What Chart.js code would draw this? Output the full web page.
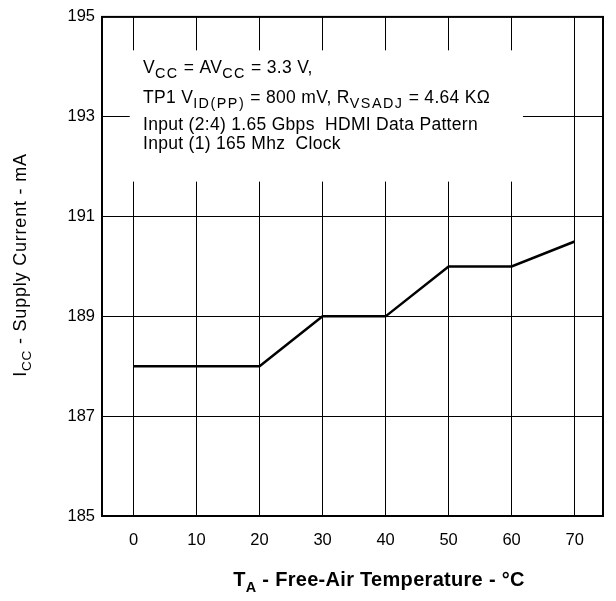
<!DOCTYPE html>
<html>
<head>
<meta charset="utf-8">
<script src="https://cdn.jsdelivr.net/npm/chart.js@4/dist/chart.umd.min.js"></script>
<style>
  body { margin: 0; background: #fff; }
  canvas { display: block; }
</style>
</head>
<body>
<canvas id="iccChart" width="616" height="601"></canvas>
<script>
var temperatures = [0, 10, 20, 30, 40, 50, 60, 70];
var supplyCurrent = [188, 188, 188, 189, 189, 190, 190, 190.5];
var xTicks = [0, 10, 20, 30, 40, 50, 60, 70];
var yTicks = [185, 187, 189, 191, 193, 195];

var FONT = '"Liberation Sans", Arial, Helvetica, sans-serif';

// text pieces: [text, isSubscript]
var noteLines = [
    [['V', 0], ['CC', 1], [' = AV', 0], ['CC', 1], [' = 3.3 V,', 0]],
    [['TP1 V', 0], ['ID(PP)', 1], [' = 800 mV, R', 0], ['VSADJ', 1], [' = 4.64 K\u03A9', 0]],
    [['Input (2:4) 1.65 Gbps  HDMI Data Pattern', 0]],
    [['Input (1) 165 Mhz  Clock', 0]]
];
var yTitle = [['I', 0], ['CC', 1], [' - Supply Current - mA', 0]];
var xTitle = [['T', 0], ['A', 1], [' - Free-Air Temperature - \u00B0C', 0]];

// style: { size, weight, spacing, subScale, subSpacing, subDrop }
function setFont(ctx, p, st) {
    ctx.font = st.weight + ' ' + (p[1] ? st.size * st.subScale : st.size) + 'px ' + FONT;
    ctx.letterSpacing = (p[1] ? st.subSpacing : st.spacing) + 'px';
}

function pieceWidth(ctx, parts, st) {
    var w = 0;
    parts.forEach(function(p) {
        setFont(ctx, p, st);
        w += ctx.measureText(p[0]).width;
    });
    return w;
}

function drawParts(ctx, parts, x, y, st) {
    ctx.textBaseline = 'alphabetic';
    ctx.textAlign = 'left';
    parts.forEach(function(p) {
        setFont(ctx, p, st);
        ctx.fillText(p[0], x, p[1] ? y + st.size * st.subDrop : y);
        x += ctx.measureText(p[0]).width;
    });
    ctx.letterSpacing = '0px';
}

var noteStyle = { size: 17.5, weight: 'normal', spacing: 0.3, subScale: 0.82, subSpacing: 1.5, subDrop: 0.3 };
var xTitleStyle = { size: 20, weight: 'bold', spacing: 0.3, subScale: 0.72, subSpacing: 0.3, subDrop: 0.3 };
var yTitleStyle = { size: 18, weight: 'normal', spacing: 0.8, subScale: 0.75, subSpacing: 0.8, subDrop: 0.3 };

var framePlugin = {
    id: 'frame',
    beforeDatasetsDraw: function(chart) {
        var ctx = chart.ctx;
        var xs = chart.scales.x;
        var ys = chart.scales.y;
        ctx.save();
        // white box behind the conditions text
        ctx.fillStyle = '#fff';
        ctx.fillRect(xs.getPixelForValue(-0.6), ys.getPixelForValue(194.33),
            xs.getPixelForValue(61.8) - xs.getPixelForValue(-0.6),
            ys.getPixelForValue(191.7) - ys.getPixelForValue(194.33));
        ctx.fillStyle = '#000';
        var lineY = [73, 103, 130, 149];
        noteLines.forEach(function(parts, i) {
            drawParts(ctx, parts, 143, lineY[i], noteStyle);
        });
        ctx.restore();
    },
    afterDraw: function(chart) {
        var ctx = chart.ctx;
        var area = chart.chartArea;
        ctx.save();
        ctx.strokeStyle = '#000';
        ctx.lineWidth = 2;
        ctx.strokeRect(area.left, area.top, area.right - area.left, area.bottom - area.top);

        ctx.fillStyle = '#000';
        // x axis title
        var wx = pieceWidth(ctx, xTitle, xTitleStyle);
        drawParts(ctx, xTitle, 379 - wx / 2, 586, xTitleStyle);
        // y axis title, rotated
        var wy = pieceWidth(ctx, yTitle, yTitleStyle);
        ctx.translate(26, 265);
        ctx.rotate(-Math.PI / 2);
        drawParts(ctx, yTitle, -wy / 2, 0, yTitleStyle);
        ctx.restore();
    }
};

var ctx = document.getElementById('iccChart').getContext('2d');

var iccChart = new Chart(ctx, {
    type: 'line',
    data: {
        datasets: [{
            data: temperatures.map(function(t, i) { return { x: t, y: supplyCurrent[i] }; }),
            borderColor: '#000',
            borderWidth: 2.5,
            pointRadius: 0,
            tension: 0,
            fill: false
        }]
    },
    options: {
        responsive: false,
        animation: false,
        layout: { padding: { left: 0, right: 13, top: 14, bottom: 0 } },
        plugins: {
            legend: { display: false },
            tooltip: { enabled: false }
        },
        scales: {
            x: {
                type: 'linear',
                min: -5,
                max: 74.5,
                afterBuildTicks: function(scale) {
                    scale.ticks = xTicks.map(function(v) { return { value: v }; });
                },
                afterFit: function(scale) { scale.height = 85; },
                grid: { color: '#000', lineWidth: 1, drawTicks: false },
                border: { display: false },
                ticks: {
                    color: '#000',
                    padding: 15,
                    font: { family: FONT, size: 16.5 }
                }
            },
            y: {
                min: 185,
                max: 195,
                afterBuildTicks: function(scale) {
                    scale.ticks = yTicks.map(function(v) { return { value: v }; });
                },
                afterFit: function(scale) { scale.width = 102; },
                grid: { color: '#000', lineWidth: 1, drawTicks: false },
                border: { display: false },
                ticks: {
                    color: '#000',
                    padding: 7,
                    font: { family: FONT, size: 16.5 }
                }
            }
        }
    },
    plugins: [framePlugin]
});
</script>
</body>
</html>
